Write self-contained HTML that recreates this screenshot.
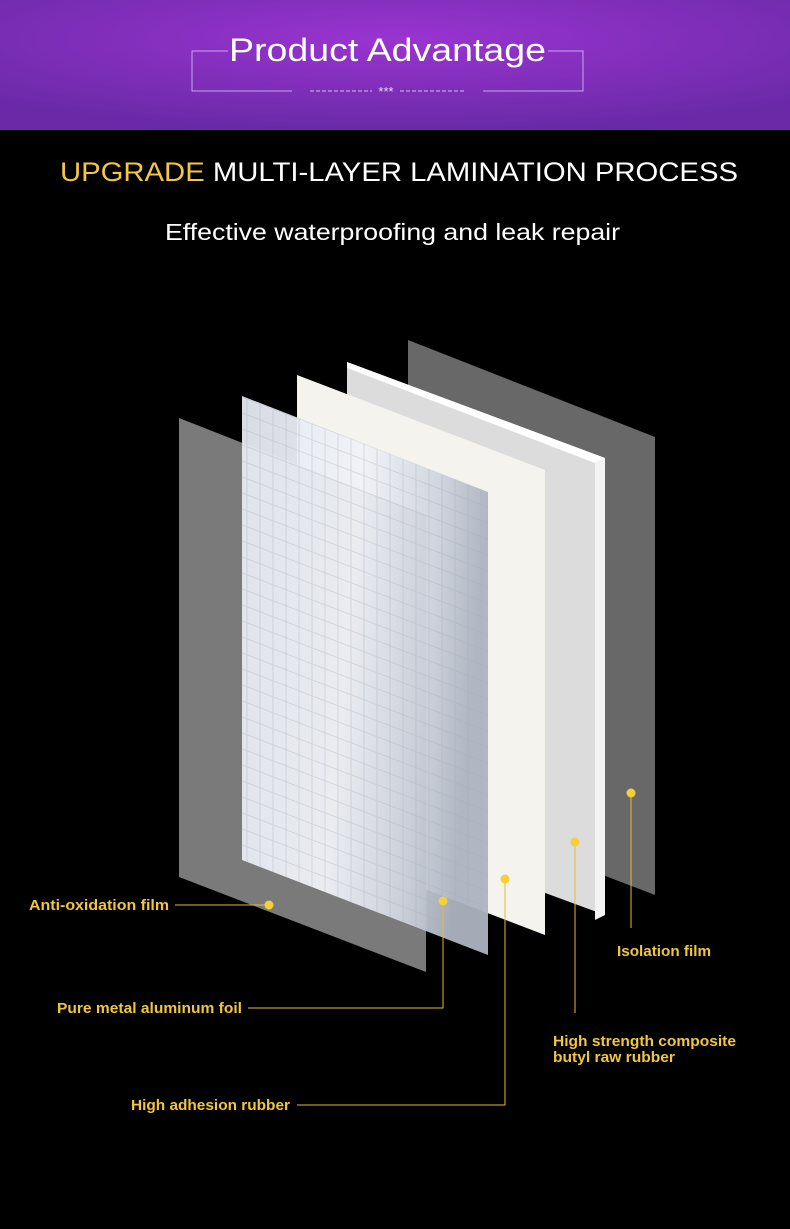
<!DOCTYPE html>
<html><head><meta charset="utf-8"><style>
html,body{margin:0;padding:0;background:#000;}
body{width:790px;height:1229px;position:relative;overflow:hidden;font-family:"Liberation Sans",sans-serif;}
</style></head><body>
<svg width="790" height="1229" viewBox="0 0 790 1229" xmlns="http://www.w3.org/2000/svg" style="position:absolute;left:0;top:0">
<defs>
<radialGradient id="hg" cx="0.5" cy="0.3" r="0.7">
<stop offset="0" stop-color="#9a34d0"/><stop offset="1" stop-color="#6a2aa8"/>
</radialGradient>
<linearGradient id="foil" x1="0" y1="0" x2="1" y2="0.2">
<stop offset="0" stop-color="#e4e8f0"/><stop offset="0.5" stop-color="#f0f2f7"/><stop offset="0.8" stop-color="#cfd4de"/><stop offset="1" stop-color="#adb3c0"/>
</linearGradient>
<pattern id="grid" width="13" height="16" patternUnits="userSpaceOnUse" patternTransform="skewY(21)">
<rect width="13" height="16" fill="none" stroke="#a3aab8" stroke-width="1" opacity="0.35"/>
</pattern>
</defs>
<rect x="0" y="0" width="790" height="130" fill="url(#hg)"/>
<path d="M228 51 H192 V91 H292 M483 91 H583 V51 H548" fill="none" stroke="#c9a5ec" stroke-width="1"/>
<text x="229" y="61" font-size="32" fill="#fff" textLength="317" lengthAdjust="spacingAndGlyphs">Product Advantage</text>
<path d="M310 91 H372 M400 91 H465" stroke="#d6bdf0" stroke-width="1" stroke-dasharray="4 2"/>
<text x="386" y="96" font-size="13" fill="#e6d6f6" text-anchor="middle">***</text>

<text x="60" y="181" font-size="27" fill="#fff" textLength="678" lengthAdjust="spacingAndGlyphs"><tspan fill="#f3c744">UPGRADE</tspan> MULTI-LAYER LAMINATION PROCESS</text>
<text x="165" y="240" font-size="23" fill="#fff" textLength="455" lengthAdjust="spacingAndGlyphs">Effective waterproofing and leak repair</text>

<polygon points="408,340 655,437 655,895 408,800" fill="#686868"/>
<polygon points="347,362 605,458 605,915 347,820" fill="#dcdcdc"/>
<polygon points="347,362 605,458 595,463 347,368" fill="#ffffff"/>
<polygon points="595,463 605,458 605,915 595,920" fill="#f4f4f4"/>
<polygon points="297,375 545,470 545,935 297,840" fill="#f4f3ee"/>
<polygon points="179,418 426,515 426,972 179,877" fill="#7a7a7a"/>
<polygon points="242,396 488,492 488,955 242,860" fill="url(#foil)" opacity="0.95"/>
<polygon points="242,396 488,492 488,955 242,860" fill="url(#grid)"/>

<g stroke="#e8b93a" stroke-width="1" fill="none">
<path d="M175 905 H269"/>
<path d="M443 901 V1008 H248"/>
<path d="M505 879 V1105 H297"/>
<path d="M575 842 V1013"/>
<path d="M631 793 V928"/>
</g>
<g fill="#f5cf3a">
<circle cx="269" cy="905" r="4.5"/><circle cx="443" cy="901" r="4.5"/><circle cx="505" cy="879" r="4.5"/><circle cx="575" cy="842" r="4.5"/><circle cx="631" cy="793" r="4.5"/>
</g>
<g font-size="14.5" fill="#f0c63e" font-weight="bold" lengthAdjust="spacingAndGlyphs">
<text x="29" y="910" textLength="140" lengthAdjust="spacingAndGlyphs">Anti-oxidation film</text>
<text x="57" y="1013" textLength="185" lengthAdjust="spacingAndGlyphs">Pure metal aluminum foil</text>
<text x="131" y="1110" textLength="159" lengthAdjust="spacingAndGlyphs">High adhesion rubber</text>
<text x="617" y="956" textLength="94" lengthAdjust="spacingAndGlyphs">Isolation film</text>
<text x="553" y="1046" textLength="183" lengthAdjust="spacingAndGlyphs">High strength composite</text>
<text x="553" y="1062" textLength="122" lengthAdjust="spacingAndGlyphs">butyl raw rubber</text>
</g>
</svg>
</body></html>
